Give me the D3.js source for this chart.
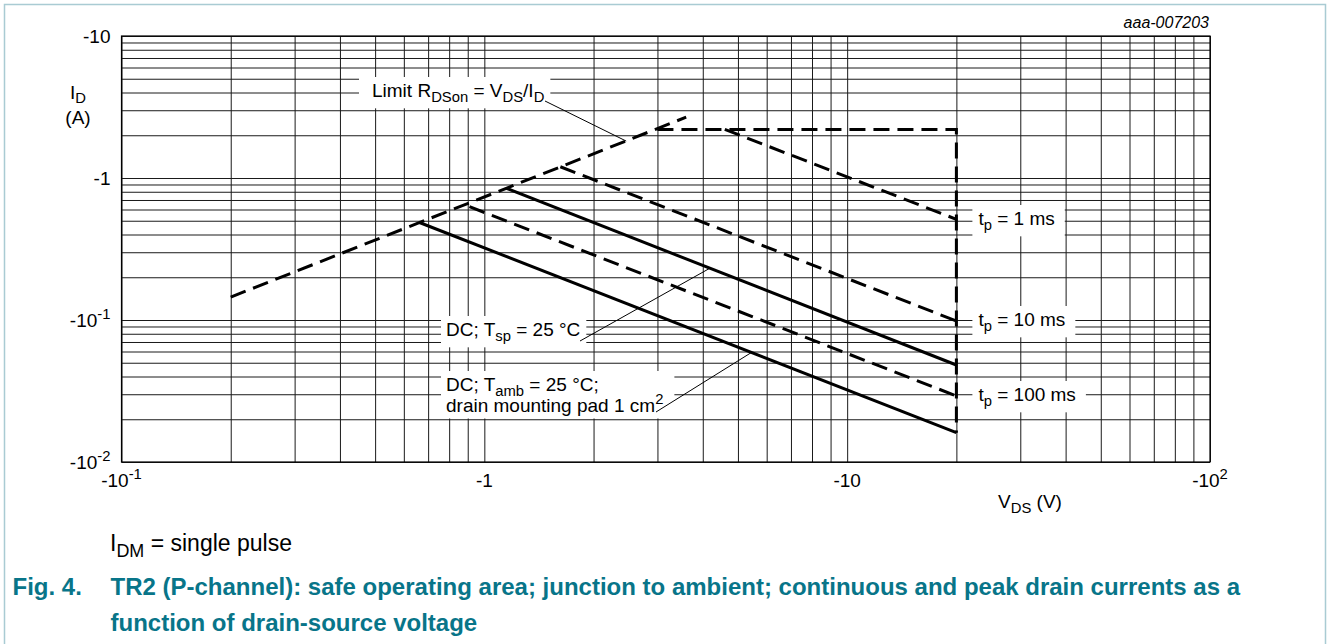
<!DOCTYPE html>
<html>
<head>
<meta charset="utf-8">
<script src="https://cdn.jsdelivr.net/npm/d3@7"></script>
<style>
  body { margin: 0; background: #fff; }
  text { font-family: "Liberation Sans", Arial, sans-serif; fill: #000; }
</style>
</head>
<body>
<svg id="soa" width="1328" height="644"></svg>
<script>
// TR2 (P-channel) SOA, values are negative (V_DS in V, I_D in A)
const limitV = [-3.0, -20, -20];          // current limit + V_DS max edge
const limitI = [-2.2, -2.2, -0.0161];
const rdsonV = [-0.2, -3.6];
const rdsonI = [-0.145, -2.68];
const tp1msV = [-4.6, -20];
const tp1msI = [-2.2, -0.512];
const tp10msV = [-1.62, -20];
const tp10msI = [-1.2, -0.0984];
const tp100msV = [-0.91, -20];
const tp100msI = [-0.628, -0.0292];
const dcTspV = [-1.15, -20];
const dcTspI = [-0.846, -0.0482];
const dcTambV = [-0.66, -20];
const dcTambI = [-0.488, -0.0161];

const xTicks = [-0.1, -1, -10, -100];
const xTickLabels = [["-10", "-1"], ["-1", ""], ["-10", ""], ["-10", "2"]];
const yTicks = [-10, -1, -0.1, -0.01];
const yTickLabels = [["-10", ""], ["-1", ""], ["-10", "-1"], ["-10", "-2"]];

const pl = 121.5, pr = 1210, pt = 36, pb = 462;

const svg = d3.select("#soa");

const x = d3.scaleLog().domain([-0.1, -100]).range([pl, pr]);
const y = d3.scaleLog().domain([-0.01, -10]).range([pb, pt]);

// frame around figure
svg.append("path")
  .attr("d", `M4.5,644 V4.5 H1325.5 V644`)
  .attr("fill", "none")
  .attr("stroke", "#a9cbd3")
  .attr("stroke-width", 1.5);

// grid
const grid = svg.append("g");
grid.append("g")
  .attr("transform", `translate(0,${pb})`)
  .call(d3.axisBottom(x).tickSize(-(pb - pt)).tickFormat(""))
  .call(g => g.select(".domain").remove());
grid.append("g")
  .attr("transform", `translate(${pl},0)`)
  .call(d3.axisLeft(y).tickSize(-(pr - pl)).tickFormat(""))
  .call(g => g.select(".domain").remove());
grid.selectAll("line").attr("stroke", "#1a1a1a").attr("stroke-width", 1);

svg.append("rect")
  .attr("x", pl).attr("y", pt)
  .attr("width", pr - pl).attr("height", pb - pt)
  .attr("fill", "none").attr("stroke", "#000").attr("stroke-width", 1.2);

function rich(sel, parts, size, drop) {
  let cur = 0;
  parts.forEach(([s, k]) => {
    if (!s) return;
    const off = k === "sub" ? (drop || size * 0.28) : k === "sup" ? -size * 0.42 : 0;
    sel.append("tspan")
      .attr("dy", off - cur)
      .attr("font-size", k === "n" ? size : size * 0.78)
      .text(s);
    cur = off;
  });
  return sel;
}

// tick labels
xTicks.forEach((v, i) => {
  const t = svg.append("text").attr("x", x(v)).attr("y", pb + 25)
    .attr("text-anchor", "middle").attr("font-size", 19);
  rich(t, [[xTickLabels[i][0], "n"], [xTickLabels[i][1], "sup"]], 19);
});
yTicks.forEach((v, i) => {
  const t = svg.append("text").attr("x", pl - 11).attr("y", y(v) + 7)
    .attr("text-anchor", "end").attr("font-size", 19);
  rich(t, [[yTickLabels[i][0], "n"], [yTickLabels[i][1], "sup"]], 19);
});

// axis titles
rich(svg.append("text").attr("x", 78).attr("y", 99).attr("text-anchor", "middle").attr("font-size", 19),
  [["I", "n"], ["D", "sub"]], 19, 4);
svg.append("text").attr("x", 78).attr("y", 123.5).attr("text-anchor", "middle")
  .attr("font-size", 19).text("(A)");
rich(svg.append("text").attr("x", 1030).attr("y", 508).attr("text-anchor", "middle").attr("font-size", 19),
  [["V", "n"], ["DS", "sub"], [" (V)", "n"]], 19);

svg.append("text").attr("x", 1209).attr("y", 28).attr("text-anchor", "end")
  .attr("font-size", 16).attr("font-style", "italic").text("aaa-007203");

// curves
const line = d3.line().x(d => x(d[0])).y(d => y(d[1]));
const series = [
  { v: limitV, i: limitI, dash: true },
  { v: rdsonV, i: rdsonI, dash: true },
  { v: tp1msV, i: tp1msI, dash: true },
  { v: tp10msV, i: tp10msI, dash: true },
  { v: tp100msV, i: tp100msI, dash: true },
  { v: dcTspV, i: dcTspI, dash: false },
  { v: dcTambV, i: dcTambI, dash: false }
];
svg.append("g").selectAll("path")
  .data(series)
  .join("path")
    .attr("d", s => line(d3.zip(s.v, s.i)))
    .attr("fill", "none")
    .attr("stroke", "#000")
    .attr("stroke-width", 3)
    .attr("stroke-dasharray", s => s.dash ? "16,8" : null);

// annotations: label on white box + thin leader to curve
function label(px, py, lines, size, padL, padR) {
  const g = svg.append("g");
  const t = g.append("text").attr("font-size", size);
  lines.forEach((parts, k) => {
    const row = t.append("tspan").attr("x", px).attr("y", py + k * 20.5);
    rich(row, parts, size);
  });
  const b = t.node().getBBox();
  g.insert("rect", "text")
    .attr("x", b.x - padL).attr("y", b.y - 3)
    .attr("width", b.width + padL + padR).attr("height", b.height + 6)
    .attr("fill", "#fff");
  return g;
}
function leader(x0, y0, v, i) {
  svg.append("line")
    .attr("x1", x0).attr("y1", y0).attr("x2", x(v)).attr("y2", y(i))
    .attr("stroke", "#000").attr("stroke-width", 1);
}

label(372, 97, [[["Limit R", "n"], ["DSon", "sub"], [" = V", "n"], ["DS", "sub"], ["/I", "n"], ["D", "sub"]]], 19, 13, 6);
leader(545, 101, -2.46, -1.82);

label(446, 336, [[["DC; T", "n"], ["sp", "sub"], [" = 25 °C", "n"]]], 19, 5, 6);
leader(580, 341, -4.19, -0.232);

label(446, 391, [[["DC; T", "n"], ["amb", "sub"], [" = 25 °C;", "n"]],
                 [["drain mounting pad 1 cm", "n"], ["2", "sup"]]], 19, 5, 11);
leader(656, 412, -5.45, -0.0591);

const vmax = limitV[1];
label(x(vmax) + 22, 225, [[["t", "n"], ["p", "sub"], [" = 1 ms", "n"]]], 19, 6, 10);
label(x(vmax) + 22, 326, [[["t", "n"], ["p", "sub"], [" = 10 ms", "n"]]], 19, 6, 10);
label(x(vmax) + 22, 401, [[["t", "n"], ["p", "sub"], [" = 100 ms", "n"]]], 19, 6, 10);

// notes + caption
rich(svg.append("text").attr("x", 110).attr("y", 551).attr("font-size", 23),
  [["I", "n"], ["DM", "sub"], [" = single pulse", "n"]], 23);

const capColor = "#087589";
const cap = svg.append("g").attr("font-weight", "bold").attr("font-size", 24);
cap.append("text").attr("x", 12.5).attr("y", 595).style("fill", capColor).text("Fig. 4.");
cap.append("text").attr("x", 110.5).attr("y", 595).style("fill", capColor)
  .text("TR2 (P-channel): safe operating area; junction to ambient; continuous and peak drain currents as a");
cap.append("text").attr("x", 110.5).attr("y", 631).style("fill", capColor)
  .text("function of drain-source voltage");
</script>
</body>
</html>
